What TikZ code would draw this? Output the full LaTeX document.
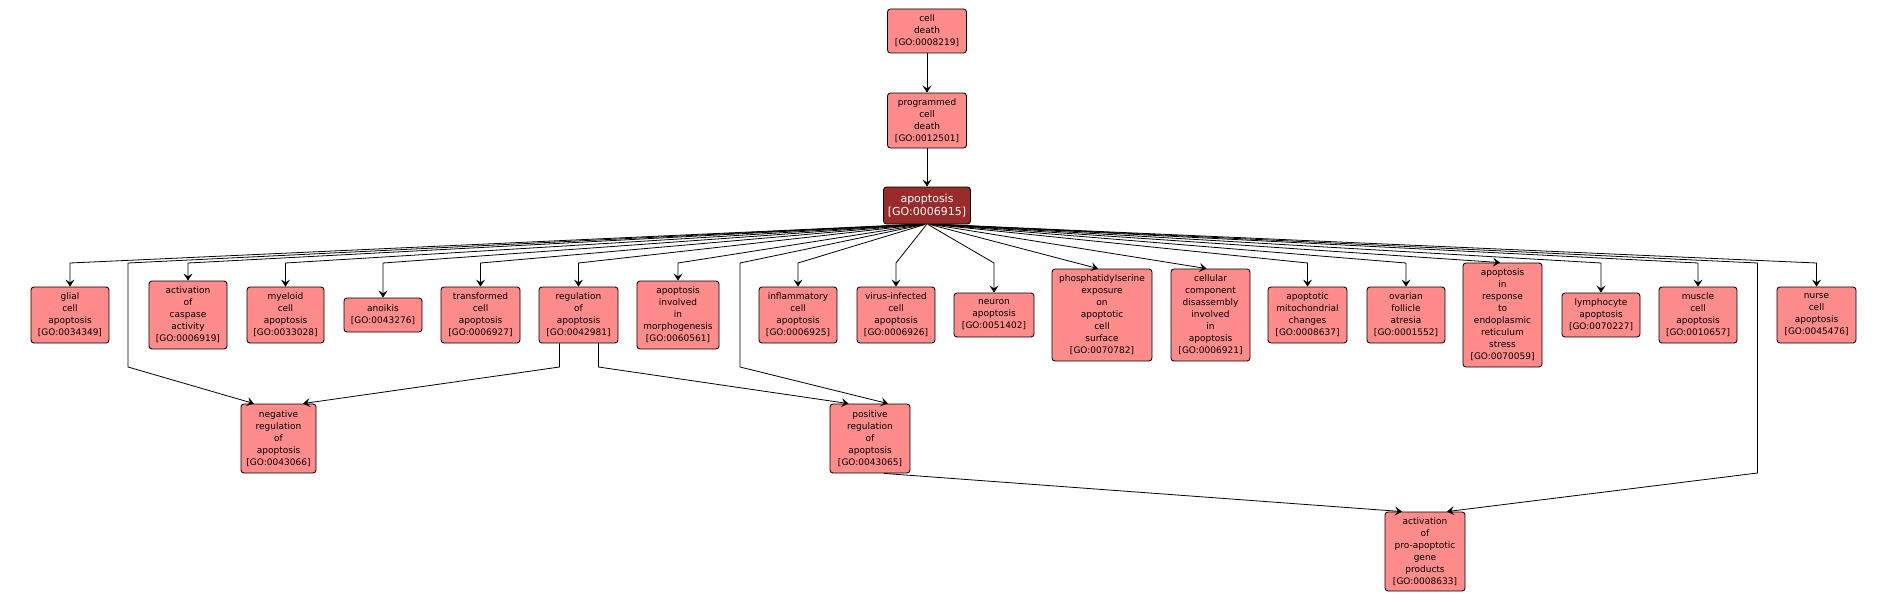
\documentclass[tikz,border=0pt]{standalone}
\usepackage{fontspec}
\setmainfont{DejaVu Sans}
\usetikzlibrary{arrows.meta}
\definecolor{boxfill}{RGB}{255,139,139}
\definecolor{selfill}{RGB}{155,42,42}
\begin{document}
\begin{tikzpicture}[x=1pt,y=-1pt,
  gobox/.style={draw=black,line width=0.85pt,fill=boxfill,rounded corners=3pt,inner sep=0pt,align=center,
     font=\fontsize{9}{12}\selectfont},
  selbox/.style={gobox,fill=selfill,text=white,font=\fontsize{11}{13.5}\selectfont},
  edge/.style={draw=black,line width=0.8pt,-{Stealth[length=7pt,width=9pt,inset=2.8pt]}}]
\useasboundingbox[fill=white] (0,0) rectangle (1887,602);

% top chain
\node[gobox,minimum width=79pt,minimum height=44pt] (celldeath) at (927,31) {cell\\death\\{[GO:0008219]}};
\node[gobox,minimum width=79pt,minimum height=55pt] (pcd) at (927,120.5) {programmed\\cell\\death\\{[GO:0012501]}};
\node[selbox,minimum width=87pt,minimum height=37pt] (apop) at (927,205.5) {apoptosis\\{[GO:0006915]}};

% children row
\node[gobox,minimum width=78pt,minimum height=56pt] (glial) at (70,315) {glial\\cell\\apoptosis\\{[GO:0034349]}};
\node[gobox,minimum width=78pt,minimum height=68pt] (caspase) at (188,315) {activation\\of\\caspase\\activity\\{[GO:0006919]}};
\node[gobox,minimum width=77pt,minimum height=56pt] (myeloid) at (285.5,315) {myeloid\\cell\\apoptosis\\{[GO:0033028]}};
\node[gobox,minimum width=78pt,minimum height=34pt] (anoikis) at (383,315) {anoikis\\{[GO:0043276]}};
\node[gobox,minimum width=79pt,minimum height=56pt] (transformed) at (480.5,315) {transformed\\cell\\apoptosis\\{[GO:0006927]}};
\node[gobox,minimum width=79pt,minimum height=56pt] (reg) at (578.5,315) {regulation\\of\\apoptosis\\{[GO:0042981]}};
\node[gobox,minimum width=82pt,minimum height=68pt] (morpho) at (678,315) {apoptosis\\involved\\in\\morphogenesis\\{[GO:0060561]}};
\node[gobox,minimum width=78pt,minimum height=56pt] (inflam) at (798,315) {inflammatory\\cell\\apoptosis\\{[GO:0006925]}};
\node[gobox,minimum width=78pt,minimum height=56pt] (virus) at (896,315) {virus-infected\\cell\\apoptosis\\{[GO:0006926]}};
\node[gobox,minimum width=80pt,minimum height=44pt] (neuron) at (994,315) {neuron\\apoptosis\\{[GO:0051402]}};
\node[gobox,minimum width=100pt,minimum height=92pt] (phospho) at (1102,315) {phosphatidylserine\\exposure\\on\\apoptotic\\cell\\surface\\{[GO:0070782]}};
\node[gobox,minimum width=79pt,minimum height=92pt] (cellular) at (1210.5,315) {cellular\\component\\disassembly\\involved\\in\\apoptosis\\{[GO:0006921]}};
\node[gobox,minimum width=79pt,minimum height=56pt] (mito) at (1307.5,315) {apoptotic\\mitochondrial\\changes\\{[GO:0008637]}};
\node[gobox,minimum width=78pt,minimum height=56pt] (ovarian) at (1406,315) {ovarian\\follicle\\atresia\\{[GO:0001552]}};
\node[gobox,minimum width=79pt,minimum height=104pt] (er) at (1502.5,315) {apoptosis\\in\\response\\to\\endoplasmic\\reticulum\\stress\\{[GO:0070059]}};
\node[gobox,minimum width=78pt,minimum height=44pt] (lympho) at (1601,315) {lymphocyte\\apoptosis\\{[GO:0070227]}};
\node[gobox,minimum width=78pt,minimum height=56pt] (muscle) at (1698,315) {muscle\\cell\\apoptosis\\{[GO:0010657]}};
\node[gobox,minimum width=79pt,minimum height=56pt] (nurse) at (1816.5,315) {nurse\\cell\\apoptosis\\{[GO:0045476]}};

% lower rows
\node[gobox,minimum width=75pt,minimum height=69pt] (neg) at (278.5,438.5) {negative\\regulation\\of\\apoptosis\\{[GO:0043066]}};
\node[gobox,minimum width=80pt,minimum height=69pt] (pos) at (870,438.5) {positive\\regulation\\of\\apoptosis\\{[GO:0043065]}};
\node[gobox,minimum width=80pt,minimum height=79pt] (act) at (1425,551.5) {activation\\of\\pro-apoptotic\\gene\\products\\{[GO:0008633]}};

% bend level and routing points
\coordinate (bendline) at (0,263);
\coordinate (rnA) at (128,263);
\coordinate (rnB) at (128,367);
\coordinate (rpA) at (740,263);
\coordinate (rpB) at (740,367);
\coordinate (raA) at (1757.5,263);
\coordinate (raB) at (1757.5,473);
\coordinate (lowline) at (0,367);

% top chain edges
\draw[edge] (celldeath) -- (pcd);
\draw[edge] (pcd) -- (apop);

% apoptosis -> children
\foreach \n/\d in {glial/-12,caspase/-10,myeloid/-9,anoikis/-7.6,transformed/-6.3,reg/-4.9,morpho/-3.5,inflam/-1.8,virus/-0.4,neuron/0.9,mito/5.3,ovarian/6.7,lympho/9.4,muscle/10.8,nurse/12.5}{
  \draw[edge] ([xshift=\d pt]apop.south) -- (\n.north |- bendline) -- (\n.north);
}
\draw[edge] ([xshift=2.4pt]apop.south) -- ([xshift=-4pt]phospho.north);
\draw[edge] ([xshift=4pt]apop.south) -- ([xshift=-4pt]cellular.north);
\draw[edge] ([xshift=8pt]apop.south) -- ([xshift=-2.5pt]er.north);

% routed edges
\draw[edge] ([xshift=-11pt]apop.south) -- (rnA) -- (rnB) -- ([xshift=-24.5pt]neg.north);
\draw[edge] ([xshift=-19pt]reg.south) -- ([xshift=-19pt]reg.south |- lowline) -- ([xshift=24.5pt]neg.north);
\draw[edge] ([xshift=20pt]reg.south) -- ([xshift=20pt]reg.south |- lowline) -- ([xshift=-21.5pt]pos.north);
\draw[edge] ([xshift=-2.6pt]apop.south) -- (rpA) -- (rpB) -- ([xshift=18pt]pos.north);
\draw[edge] ([xshift=14pt]pos.south) -- ([xshift=-23pt]act.north);
\draw[edge] ([xshift=11.6pt]apop.south) -- (raA) -- (raB) -- ([xshift=22pt]act.north);
\end{tikzpicture}
\end{document}
